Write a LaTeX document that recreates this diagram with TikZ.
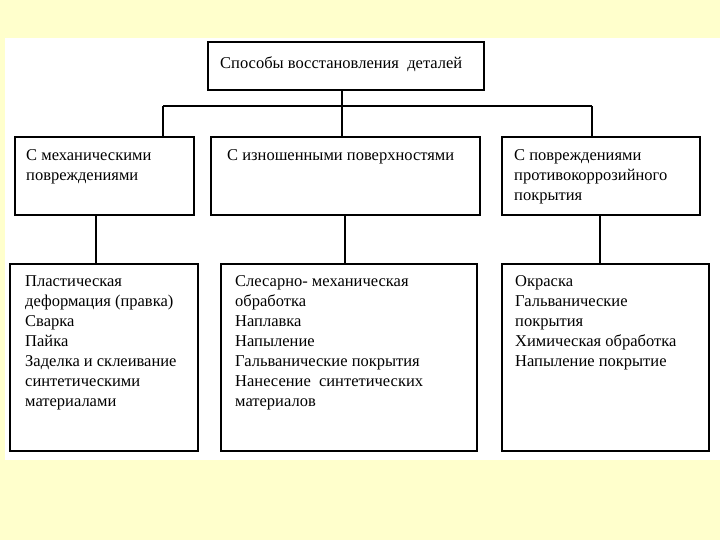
\documentclass[tikz,border=0pt]{standalone}
\usepackage{fontspec}
\setmainfont{Liberation Serif}
\definecolor{pale}{HTML}{FFFFCC}

\begin{document}
\begin{tikzpicture}[
		x=1bp, y=-1bp,
		box/.style={rectangle, draw, line width=1.6bp, fill=white, minimum height=78bp},
		txt/.style={inner sep=0pt, anchor=north west, align=left, font=\fontsize{16.5bp}{20bp}\selectfont},
		wire/.style={line width=1.3bp}
	]
  \useasboundingbox[fill=pale] (0,0) rectangle (720,540);
  \fill[white] (5,38) rectangle (720,460);
  \node (root) [box, minimum width=276bp, minimum height=48bp] at (346,66) {};
  \node (mech) [box, minimum width=179bp] at (104.5,176) {};
  \node (worn) [box, minimum width=269bp] at (345.5,176) {};
  \node (corr) [box, minimum width=198bp] at (601,176) {};
  \node (mech_l) [box, minimum width=188bp, minimum height=187bp] at (104,357.5) {};
  \node (worn_l) [box, minimum width=256bp, minimum height=187bp] at (349,357.5) {};
  \node (corr_l) [box, minimum width=207bp, minimum height=187bp] at (605.5,357.5) {};
  \node (root_t) [txt] at (220,56) {Способы восстановления\ \ деталей};
  \node (mech_t) [txt] at (26,149) {С механическими\\повреждениями};
  \node (worn_t) [txt] at (227,149) {С изношенными поверхностями};
  \node (corr_t) [txt] at (514,149) {С повреждениями\\противокоррозийного\\покрытия};
  \node (mech_lt) [txt] at (25,275) {Пластическая\\деформация (правка)\\Сварка\\Пайка\\Заделка и склеивание\\синтетическими\\материалами};
  \node (worn_lt) [txt] at (235,275) {Слесарно- механическая\\обработка\\Наплавка\\Напыление\\Гальванические покрытия\\Нанесение\ \ синтетических\\материалов};
  \node (corr_lt) [txt] at (515,275) {Окраска\\Гальванические\\покрытия\\Химическая обработка\\Напыление покрытие};
  \coordinate (bar_l) at (163,106);
  \coordinate (bar_m) at (342,106);
  \coordinate (bar_r) at (592,106);
  \draw[wire] (bar_l) -- (bar_r);
  \draw[wire] (bar_m |- root.south) -- (bar_m |- worn.north);
  \draw[wire] (bar_l) -- (bar_l |- mech.north);
  \draw[wire] (bar_r) -- (bar_r |- corr.north);
  \coordinate (drop_l) at (96,240);
  \coordinate (drop_m) at (345,240);
  \coordinate (drop_r) at (600,240);
  \draw[wire] (drop_l |- mech.south) -- (drop_l |- mech_l.north);
  \draw[wire] (drop_m |- worn.south) -- (drop_m |- worn_l.north);
  \draw[wire] (drop_r |- corr.south) -- (drop_r |- corr_l.north);
\end{tikzpicture}
\end{document}
